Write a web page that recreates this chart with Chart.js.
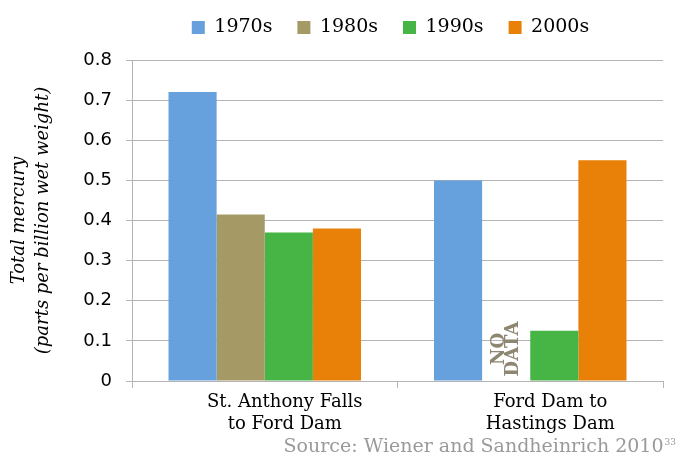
<!DOCTYPE html>
<html>
<head>
<meta charset="utf-8">
<script src="https://cdn.jsdelivr.net/npm/chart.js@4.4.1/dist/chart.umd.min.js"></script>
<style>
  html, body { margin: 0; padding: 0; background: #fff; }
  #wrap { width: 694px; height: 458px; position: relative; }
</style>
</head>
<body>
<div id="wrap"><canvas id="mercuryChart"></canvas></div>
<script>
// 区間ラベル
var categories = [['St. Anthony Falls', 'to Ford Dam'], ['Ford Dam to', 'Hastings Dam']];
// 年代ごとの値（1980s の 2 区間目はデータなし）
var series1970s = [0.72, 0.50];
var series1980s = [0.415, null];
var series1990s = [0.37, 0.125];
var series2000s = [0.38, 0.55];
var seriesNames = ['1970s', '1980s', '1990s', '2000s'];
var yTicks = [0, 0.1, 0.2, 0.3, 0.4, 0.5, 0.6, 0.7, 0.8];
var axisTitle = ['Total mercury', '(parts per billion wet weight)'];
var sourceText = 'Source: Wiener and Sandheinrich 2010';
var sourceNote = '33';
var noDataLabel = ['NO', 'DATA'];

var colors = ['#66a1dd', '#a59a66', '#47b446', '#e98007'];
var gridColor = '#b4b4b4';
var serif = '"DejaVu Serif", serif';

// 凡例の高さを固定し、位置を少し調整
var legendPlacePlugin = {
  id: 'legendPlace',
  beforeInit: function(chart) {
    var origFit = chart.legend.fit;
    chart.legend.fit = function() {
      origFit.bind(chart.legend)();
      this.height = 60;
    };
  },
  afterLayout: function(chart) {
    var lg = chart.legend;
    lg.top -= 7;
    lg.bottom -= 7;
    lg.left -= 7;
    lg.right -= 7;
  }
};

// NO DATA と出典
var annotationsPlugin = {
  id: 'annotations',
  afterDatasetsDraw: function(chart) {
    var ctx = chart.ctx;
    var yScale = chart.scales.y;
    var green = chart.getDatasetMeta(2).data[1];
    var cx = green.x - green.width;
    var cy = yScale.getPixelForValue(0) - 32;
    ctx.save();
    ctx.translate(cx, cy);
    ctx.rotate(-Math.PI / 2);
    ctx.fillStyle = '#8d8670';
    ctx.font = 'bold 18px ' + serif;
    ctx.textAlign = 'center';
    ctx.textBaseline = 'middle';
    ctx.fillText(noDataLabel[0], 0, -7);
    ctx.fillText(noDataLabel[1], 0, 7);
    ctx.restore();
  },
  afterDraw: function(chart) {
    var ctx = chart.ctx;
    ctx.save();
    ctx.fillStyle = '#9a9a9a';
    ctx.textBaseline = 'alphabetic';
    ctx.font = '9px ' + serif;
    var noteW = ctx.measureText(sourceNote).width;
    var right = chart.width - 18;
    ctx.textAlign = 'right';
    ctx.fillText(sourceNote, right, 445);
    ctx.font = '19px ' + serif;
    ctx.fillText(sourceText, right - noteW - 1, 452);
    ctx.restore();
  }
};

new Chart(document.getElementById('mercuryChart'), {
  type: 'bar',
  data: {
    labels: categories,
    datasets: [
      { label: seriesNames[0], data: series1970s, backgroundColor: colors[0] },
      { label: seriesNames[1], data: series1980s, backgroundColor: colors[1] },
      { label: seriesNames[2], data: series1990s, backgroundColor: colors[2] },
      { label: seriesNames[3], data: series2000s, backgroundColor: colors[3] }
    ]
  },
  options: {
    responsive: true,
    maintainAspectRatio: false,
    animation: false,
    layout: { padding: { left: 0, right: 31, top: 0, bottom: 0 } },
    datasets: {
      bar: { barPercentage: 1, categoryPercentage: 0.725, borderWidth: 0 }
    },
    scales: {
      x: {
        grid: {
          offset: true,
          drawOnChartArea: false,
          color: gridColor,
          tickLength: 7
        },
        border: { color: gridColor },
        ticks: {
          color: '#000',
          font: { family: serif, size: 18, lineHeight: 1.18 },
          labelOffset: 20,
          padding: 4,
          maxRotation: 0
        },
        afterFit: function(scale) { scale.height = 77; }
      },
      y: {
        min: 0,
        max: 0.8,
        afterBuildTicks: function(scale) {
          scale.ticks = yTicks.map(function(v) { return { value: v }; });
        },
        grid: { color: gridColor, tickLength: 6 },
        border: { color: gridColor },
        ticks: {
          color: '#000',
          font: { family: '"DejaVu Sans", sans-serif', size: 18 },
          padding: 14,
          callback: function(value) { return value === 0 ? '0' : value.toFixed(1); }
        },
        title: {
          display: true,
          text: axisTitle,
          color: '#000',
          font: { family: serif, size: 18, style: 'italic', lineHeight: 1.3 },
          padding: { top: 8, bottom: 0 }
        },
        afterFit: function(scale) { scale.width = 132; }
      }
    },
    plugins: {
      legend: {
        display: true,
        position: 'top',
        fullSize: false,
        labels: {
          color: '#000',
          boxWidth: 13,
          boxHeight: 13,
          padding: 25,
          font: { family: serif, size: 19 }
        }
      },
      tooltip: { enabled: false }
    }
  },
  plugins: [legendPlacePlugin, annotationsPlugin]
});
</script>
</body>
</html>
